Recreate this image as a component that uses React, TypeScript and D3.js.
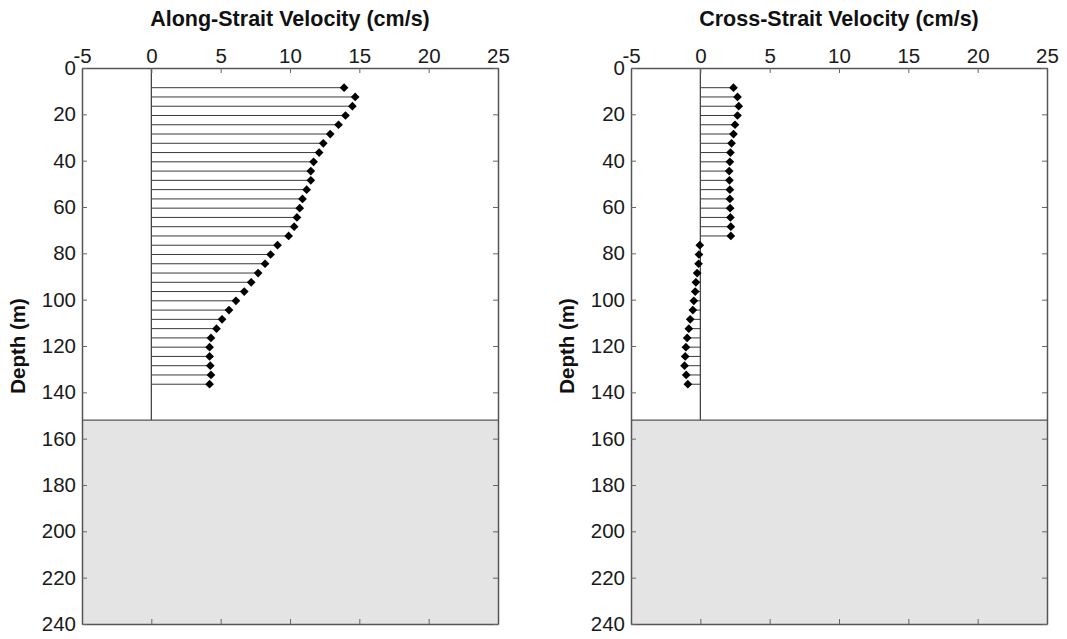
import * as d3 from "d3";
import React, { useEffect, useRef } from "react";

// depth bins (m)
const depths = d3.range(33).map((i) => 8.5 + i * 4);

const alongVel = [
  13.9, 14.7, 14.5, 14.0, 13.5, 12.9, 12.4, 12.1, 11.7, 11.5, 11.5, 11.2, 10.9,
  10.7, 10.5, 10.3, 9.9, 9.1, 8.6, 8.2, 7.7, 7.2, 6.7, 6.1, 5.6, 5.1, 4.7, 4.3,
  4.2, 4.2, 4.25, 4.3, 4.2,
];

const crossVel = [
  2.39, 2.68, 2.77, 2.68, 2.5, 2.39, 2.25, 2.17, 2.13, 2.08, 2.1, 2.13, 2.13,
  2.15, 2.17, 2.2, 2.2, -0.04, -0.1, -0.13, -0.23, -0.32, -0.37, -0.47, -0.54,
  -0.73, -0.83, -0.95, -1.04, -1.09, -1.14, -1.02, -0.9,
];

const titles = ["Along-Strait Velocity (cm/s)", "Cross-Strait Velocity (cm/s)"];
const xTicks = [-5, 0, 5, 10, 15, 20, 25];
const yTicks = [0, 20, 40, 60, 80, 100, 120, 140, 160, 180, 200, 220, 240];
const bottomDepth = 152;

const W = 1067;
const H = 639;
const FONT = "Arial, 'Liberation Sans', sans-serif";

const App: React.FC = () => {
  const svgRef = useRef<SVGSVGElement>(null);

  useEffect(() => {
    const svg = d3.select(svgRef.current);
    svg.selectAll("*").remove();

    const panels = [
      { left: 82, right: 498, values: alongVel, title: titles[0] },
      { left: 631, right: 1047, values: crossVel, title: titles[1] },
    ];
    const top = 68;
    const bottom = 624;

    const y = d3.scaleLinear().domain([0, 240]).range([top, bottom]);

    panels.forEach((p) => {
      const x = d3.scaleLinear().domain([-5, 25]).range([p.left, p.right]);
      const g = svg.append("g");

      // stems
      g.selectAll("line.stem")
        .data(p.values)
        .join("line")
        .attr("class", "stem")
        .attr("x1", x(0))
        .attr("x2", (d) => x(d))
        .attr("y1", (_, i) => y(depths[i]))
        .attr("y2", (_, i) => y(depths[i]))
        .attr("stroke", "#3a3a3a")
        .attr("stroke-width", 1);

      // zero line
      g.append("line")
        .attr("x1", x(0))
        .attr("x2", x(0))
        .attr("y1", y(0))
        .attr("y2", y(bottomDepth))
        .attr("stroke", "#3a3a3a")
        .attr("stroke-width", 1.2);

      // markers
      const diamond = d3.symbol().type(d3.symbolSquare).size(38);
      g.selectAll("path.mark")
        .data(p.values)
        .join("path")
        .attr("class", "mark")
        .attr("d", diamond() as string)
        .attr(
          "transform",
          (d, i) => `translate(${x(d)},${y(depths[i])}) rotate(45)`
        )
        .attr("fill", "#000");

      // sea floor
      g.append("rect")
        .attr("x", p.left)
        .attr("y", y(bottomDepth))
        .attr("width", p.right - p.left)
        .attr("height", y(240) - y(bottomDepth))
        .attr("fill", "#e4e4e4")
        .attr("stroke", "none");
      g.append("line")
        .attr("x1", p.left)
        .attr("x2", p.right)
        .attr("y1", y(bottomDepth))
        .attr("y2", y(bottomDepth))
        .attr("stroke", "#555")
        .attr("stroke-width", 1.2);

      // axes
      const styleAxis = (a: d3.Selection<SVGGElement, unknown, null, undefined>) => {
        a.select(".domain").attr("stroke", "#555").attr("stroke-width", 1.5);
        a.selectAll(".tick line").attr("stroke", "#666").attr("stroke-width", 1);
        a.selectAll(".tick text")
          .attr("fill", "#1a1a1a")
          .style("font-family", FONT)
          .style("font-size", "20.5px");
      };

      const topAx = g
        .append("g")
        .attr("transform", `translate(0,${top})`)
        .call(
          d3
            .axisTop(x)
            .tickValues(xTicks)
            .tickSize(-5)
            .tickSizeOuter(0)
            .tickPadding(5)
            .tickFormat((d) => String(d))
        );
      styleAxis(topAx);

      const botAx = g
        .append("g")
        .attr("transform", `translate(0,${bottom})`)
        .call(
          d3
            .axisBottom(x)
            .tickValues(xTicks)
            .tickSize(-5)
            .tickSizeOuter(0)
            .tickFormat(() => "")
        );
      styleAxis(botAx);

      const leftAx = g
        .append("g")
        .attr("transform", `translate(${p.left},0)`)
        .call(
          d3
            .axisLeft(y)
            .tickValues(yTicks)
            .tickSize(-5)
            .tickSizeOuter(0)
            .tickPadding(6)
            .tickFormat((d) => String(d))
        );
      styleAxis(leftAx);

      const rightAx = g
        .append("g")
        .attr("transform", `translate(${p.right},0)`)
        .call(
          d3
            .axisRight(y)
            .tickValues(yTicks)
            .tickSize(-5)
            .tickSizeOuter(0)
            .tickFormat(() => "")
        );
      styleAxis(rightAx);

      // title
      g.append("text")
        .attr("x", (p.left + p.right) / 2)
        .attr("y", 26)
        .attr("text-anchor", "middle")
        .style("font-family", FONT)
        .style("font-size", "21.5px")
        .style("font-weight", "bold")
        .attr("fill", "#111")
        .text(p.title);

      // y label
      g.append("text")
        .attr("transform", `translate(${p.left - 57},${(top + bottom) / 2}) rotate(-90)`)
        .attr("text-anchor", "middle")
        .style("font-family", FONT)
        .style("font-size", "20.5px")
        .style("font-weight", "bold")
        .attr("fill", "#111")
        .text("Depth (m)");
    });
  }, []);

  return (
    <svg
      ref={svgRef}
      width={W}
      height={H}
      style={{ position: "absolute", left: 0, top: 0, background: "#fff" }}
    />
  );
};

export default App;
